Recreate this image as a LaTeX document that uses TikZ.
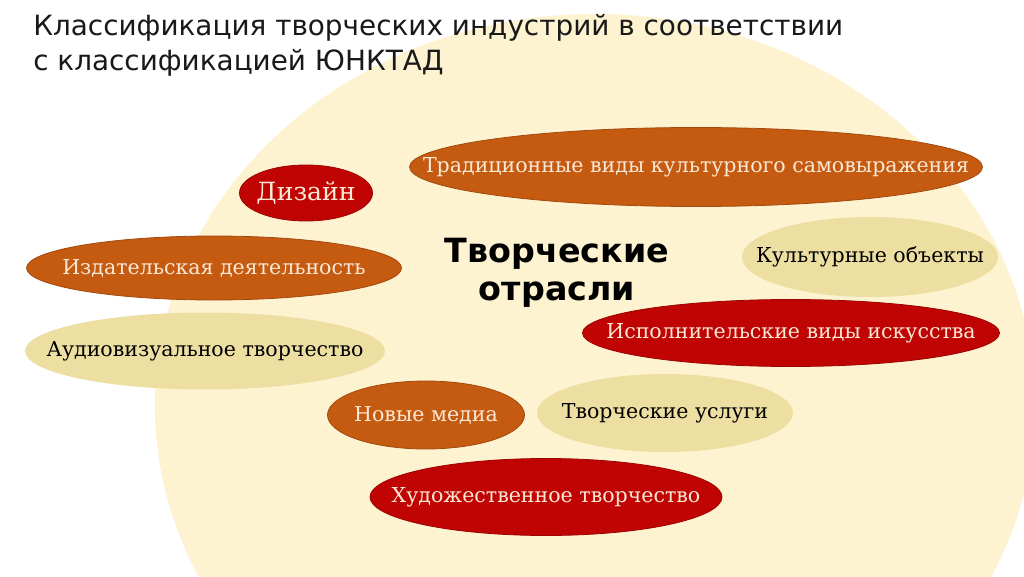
\documentclass[tikz,border=0pt]{standalone}
\usepackage{fontspec}
\setmainfont{DejaVu Serif}
\setsansfont{DejaVu Sans}
\definecolor{Bgfill}{RGB}{253,243,208}
\definecolor{Ofill}{RGB}{197,90,17}
\definecolor{Rfill}{RGB}{192,4,4}
\definecolor{Pfill}{RGB}{237,223,162}
\definecolor{Ltext}{RGB}{251,233,214}
\definecolor{Htext}{RGB}{25,25,25}

\begin{document}
\begin{tikzpicture}[x=0.75pt,y=0.75pt,line join=round,
  oval/.style={fill=#1,draw=#1!82!black,line width=0.6pt},
  paleoval/.style={fill=Pfill},
  lbl/.style={inner sep=0pt,text=Ltext,font=\fontsize{15.4}{17}\selectfont},
  dlbl/.style={lbl,text=black},
  head/.style={anchor=base west,inner sep=0pt,text=Htext,font=\sffamily\fontsize{20.9}{25}\selectfont}]
\path[use as bounding box] (0,0) rectangle (1024,576);
\fill[white] (0,0) rectangle (1024,576);
\clip (0,0) rectangle (1024,576);
\fill[Bgfill] (595,170) ellipse[x radius=440,y radius=392];
\node[head] (head1) at (33,540) {Классификация творческих индустрий в соответствии};
\node[head] (head2) at (33,505) {с классификацией ЮНКТАД};
% ovals
\draw[oval=Ofill] (696,409) ellipse[x radius=286.5,y radius=39.5];
\node[lbl] (trad) at (696,409) {Традиционные виды культурного самовыражения};
\draw[oval=Rfill] (306,383) ellipse[x radius=66.5,y radius=28];
\node[lbl,font=\fontsize{18.8}{20}\selectfont] (design) at (306,383) {Дизайн};
\draw[oval=Ofill] (214,308) ellipse[x radius=187.5,y radius=32];
\node[lbl] (publ) at (214,308) {Издательская деятельность};
\fill[paleoval] (205,225) ellipse[x radius=180,y radius=38.5];
\node[dlbl] (audio) at (205,225) {Аудиовизуальное творчество};
\fill[paleoval] (870,319) ellipse[x radius=128,y radius=40];
\node[dlbl] (cult) at (870,319) {Культурные объекты};
\draw[oval=Rfill] (791,243) ellipse[x radius=208.5,y radius=33.5];
\node[lbl] (perf) at (791,243) {Исполнительские виды искусства};
\draw[oval=Ofill] (426,161) ellipse[x radius=98.5,y radius=34];
\node[lbl] (media) at (426,161) {Новые медиа};
\fill[paleoval] (665,163) ellipse[x radius=128,y radius=39];
\node[dlbl] (serv) at (665,163) {Творческие услуги};
\draw[oval=Rfill] (546,79) ellipse[x radius=176,y radius=38.5];
\node[lbl] (art) at (546,79) {Художественное творчество};
% centre
\node[align=center,inner sep=0pt,font=\sffamily\bfseries\fontsize{25}{28.5}\selectfont] (core) at (557,303) {Творческие\\отрасли};
\end{tikzpicture}
\end{document}
